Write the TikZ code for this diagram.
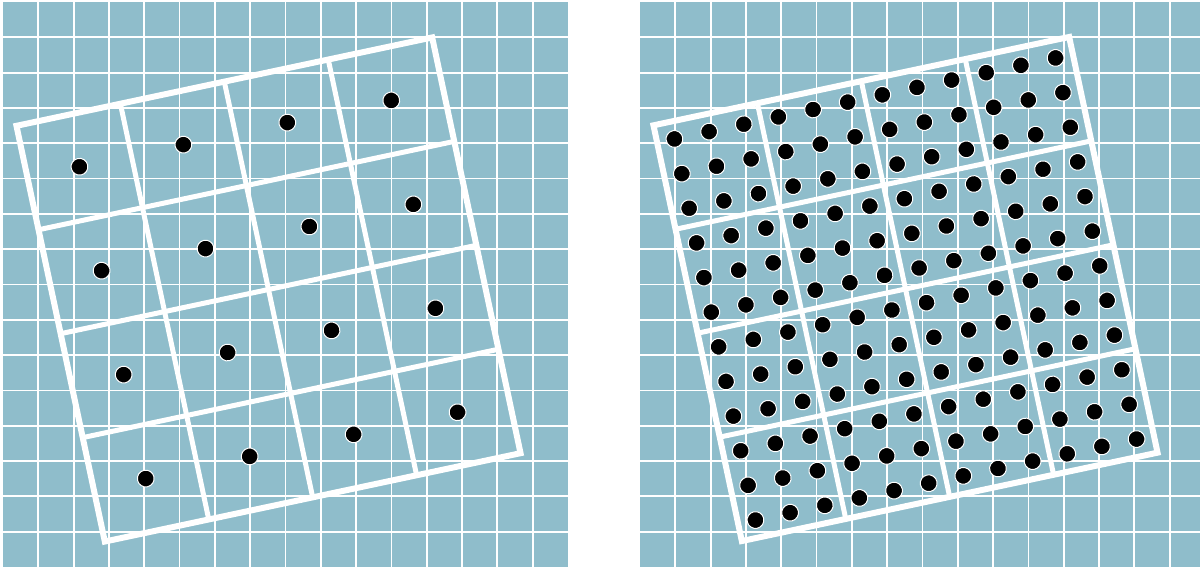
\documentclass[tikz,border=0pt]{standalone}
\definecolor{gridbg}{RGB}{143,189,203}
\tikzset{
  gridline/.style={white,line width=1.8},
  frame/.style={white,line width=6,line join=miter},
  cellline/.style={white,line width=5},
  dot/.style={fill=black,draw=white,line width=1}
}
\begin{document}
\begin{tikzpicture}[x=1pt,y=-1pt]
    \useasboundingbox (0,0) rectangle (1200,567);
    \clip (0,0) rectangle (1200,567);

    % background grids
    \foreach \ox in {3,640} {
        \fill[gridbg] (\ox,2) rectangle ++(565,565);
        \foreach \i in {1,...,15} {
            \draw[gridline] (\ox+\i*35.3125,2) -- ++(0,565);
            \draw[gridline] (\ox,2+\i*35.3125) -- ++(565,0);
        }
    }

    % left: one sample per cell
    \begin{scope}[shift={(268.5,289.5)},rotate=12]
        \foreach \k in {1,2,3} {
            \draw[cellline] (-212.5+\k*106.25,-212.5) -- ++(0,425);
            \draw[cellline] (-212.5,-212.5+\k*106.25) -- ++(425,0);
        }
        \draw[frame] (-212.5,-212.5) rectangle (212.5,212.5);
        \foreach \i in {0,...,3}
            \foreach \j in {0,...,3}
                \filldraw[dot] (-159.375+\i*106.25,-159.375+\j*106.25) circle (8.4);
    \end{scope}

    % right: nine samples per cell
    \begin{scope}[shift={(905.5,289)},rotate=12]
        \foreach \k in {1,2,3} {
            \draw[cellline] (-212.5+\k*106.25,-212.5) -- ++(0,425);
            \draw[cellline] (-212.5,-212.5+\k*106.25) -- ++(425,0);
        }
        \draw[frame] (-212.5,-212.5) rectangle (212.5,212.5);
        \foreach \i in {0,...,11}
            \foreach \j in {0,...,11}
                \filldraw[dot] (-194.79+\i*35.417,-194.79+\j*35.417) circle (8.4);
    \end{scope}
\end{tikzpicture}
\end{document}
